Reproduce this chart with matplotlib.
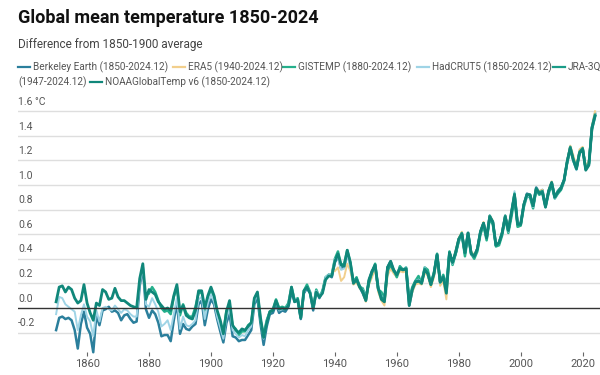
import matplotlib

matplotlib.use("Agg")
import matplotlib.pyplot as plt
from matplotlib.lines import Line2D

plt.rcParams["font.family"] = ["Roboto", "DejaVu Sans"]

# annual anomalies vs 1850-1900 (°C)
berkeley_start = 1850
berkeley = [
    -0.18, -0.08, -0.07, -0.09, -0.08, -0.10, -0.18, -0.33, -0.13, -0.03,
    -0.16, -0.21, -0.36, -0.06, -0.14, -0.02, -0.01, 0.01, -0.03, -0.02,
    -0.04, -0.10, -0.06, -0.05, -0.09, -0.12, -0.11, 0.18, 0.33, -0.01,
    -0.08, -0.02, -0.05, -0.12, -0.23, -0.22, -0.22, -0.27, -0.10, 0.04,
    -0.21, -0.13, -0.17, -0.18, -0.15, -0.13, 0.03, 0.06, -0.14, -0.01,
    0.07, 0.03, -0.09, -0.19, -0.28, -0.12, -0.05, -0.23, -0.24, -0.27,
    -0.26, -0.26, -0.22, -0.18, 0.03, 0.08, -0.13, -0.30, -0.15, -0.05,
    -0.04, 0.03, -0.04, -0.02, -0.03, 0.01, 0.13, 0.05, 0.06, -0.09,
    0.12, 0.16, 0.12, -0.02, 0.14, 0.08, 0.13, 0.24, 0.27, 0.25,
    0.37, 0.42, 0.32, 0.33, 0.45, 0.35, 0.20, 0.22, 0.17, 0.12,
    0.06, 0.22, 0.30, 0.33, 0.15, 0.08, 0.05, 0.33, 0.38, 0.30,
    0.27, 0.31, 0.30, 0.31, 0.02, 0.14, 0.21, 0.21, 0.20, 0.31,
    0.27, 0.19, 0.27, 0.43, 0.21, 0.25, 0.12, 0.45, 0.37, 0.44,
    0.56, 0.61, 0.44, 0.61, 0.45, 0.42, 0.48, 0.62, 0.69, 0.57,
    0.75, 0.70, 0.51, 0.53, 0.61, 0.75, 0.63, 0.77, 0.92, 0.68,
    0.69, 0.84, 0.93, 0.92, 0.83, 0.98, 0.94, 0.96, 0.83, 0.95,
    1.02, 0.90, 0.95, 0.98, 1.04, 1.19, 1.31, 1.21, 1.14, 1.27,
    1.30, 1.13, 1.17, 1.47, 1.58,
]

era5_start = 1940
era5 = [
    0.30, 0.33, 0.22, 0.25, 0.36, 0.30, 0.19, 0.21, 0.16, 0.14,
    0.05, 0.19, 0.25, 0.32, 0.13, 0.06, 0.02, 0.26, 0.32, 0.28,
    0.25, 0.30, 0.29, 0.30, 0.03, 0.13, 0.19, 0.20, 0.19, 0.29,
    0.26, 0.17, 0.25, 0.41, 0.18, 0.22, 0.07, 0.42, 0.36, 0.47,
    0.57, 0.62, 0.45, 0.61, 0.46, 0.43, 0.49, 0.61, 0.70, 0.58,
    0.75, 0.71, 0.51, 0.54, 0.62, 0.75, 0.64, 0.78, 0.92, 0.66,
    0.67, 0.84, 0.92, 0.92, 0.84, 0.97, 0.95, 0.96, 0.84, 0.96,
    1.03, 0.91, 0.95, 0.98, 1.04, 1.20, 1.32, 1.24, 1.15, 1.29,
    1.31, 1.15, 1.20, 1.48, 1.60,
]

gistemp_start = 1880
gistemp = [
    0.12, 0.17, 0.13, 0.06, 0.00, -0.03, -0.02, -0.05, 0.09, 0.17,
    -0.06, 0.03, -0.04, -0.07, -0.07, 0.01, 0.12, 0.13, -0.02, 0.08,
    0.15, 0.09, -0.04, -0.12, -0.20, -0.02, 0.03, -0.15, -0.17, -0.22,
    -0.19, -0.19, -0.14, -0.12, 0.07, 0.12, -0.10, -0.22, -0.10, -0.03,
    -0.01, 0.07, 0.00, 0.01, 0.00, 0.04, 0.17, 0.06, 0.08, -0.08,
    0.14, 0.19, 0.13, 0.00, 0.15, 0.09, 0.14, 0.25, 0.27, 0.27,
    0.40, 0.46, 0.35, 0.36, 0.47, 0.37, 0.21, 0.25, 0.17, 0.16,
    0.09, 0.20, 0.29, 0.36, 0.15, 0.13, 0.08, 0.33, 0.34, 0.31,
    0.25, 0.34, 0.31, 0.33, 0.07, 0.17, 0.22, 0.26, 0.20, 0.33,
    0.31, 0.20, 0.29, 0.44, 0.21, 0.27, 0.18, 0.46, 0.35, 0.44,
    0.54, 0.60, 0.42, 0.59, 0.44, 0.40, 0.46, 0.60, 0.67, 0.55,
    0.73, 0.68, 0.50, 0.51, 0.59, 0.73, 0.61, 0.74, 0.89, 0.66,
    0.67, 0.82, 0.91, 0.90, 0.81, 0.96, 0.92, 0.94, 0.82, 0.93,
    1.00, 0.89, 0.93, 0.96, 1.03, 1.18, 1.29, 1.20, 1.13, 1.26,
    1.29, 1.13, 1.17, 1.45, 1.56,
]

hadcrut_start = 1850
hadcrut = [
    -0.05, 0.09, 0.08, 0.03, 0.01, -0.01, -0.03, -0.18, -0.06, 0.03,
    -0.07, -0.11, -0.23, -0.02, -0.11, 0.00, 0.01, -0.01, -0.02, 0.02,
    -0.01, -0.04, -0.01, -0.02, -0.05, -0.07, -0.07, 0.20, 0.33, 0.03,
    0.01, 0.08, 0.03, -0.03, -0.15, -0.13, -0.10, -0.18, -0.05, 0.08,
    -0.17, -0.07, -0.14, -0.15, -0.13, -0.10, 0.07, 0.09, -0.09, 0.04,
    0.11, 0.05, -0.07, -0.16, -0.25, -0.08, 0.00, -0.18, -0.21, -0.24,
    -0.22, -0.23, -0.18, -0.15, 0.05, 0.11, -0.09, -0.25, -0.11, -0.03,
    -0.02, 0.05, -0.02, -0.01, -0.01, 0.03, 0.16, 0.07, 0.07, -0.07,
    0.13, 0.17, 0.13, 0.00, 0.14, 0.10, 0.13, 0.25, 0.27, 0.27,
    0.40, 0.41, 0.31, 0.32, 0.44, 0.33, 0.21, 0.23, 0.18, 0.15,
    0.09, 0.23, 0.29, 0.35, 0.15, 0.10, 0.07, 0.30, 0.36, 0.30,
    0.27, 0.33, 0.31, 0.33, 0.05, 0.15, 0.22, 0.23, 0.21, 0.33,
    0.27, 0.19, 0.29, 0.43, 0.20, 0.26, 0.15, 0.44, 0.36, 0.45,
    0.55, 0.59, 0.45, 0.60, 0.43, 0.42, 0.48, 0.62, 0.67, 0.57,
    0.74, 0.70, 0.51, 0.54, 0.61, 0.74, 0.62, 0.78, 0.95, 0.68,
    0.68, 0.83, 0.90, 0.92, 0.82, 0.96, 0.93, 0.94, 0.82, 0.95,
    1.02, 0.89, 0.94, 0.97, 1.03, 1.18, 1.29, 1.19, 1.12, 1.26,
    1.29, 1.13, 1.17, 1.46, 1.55,
]

jra3q_start = 1947
jra3q = [
    0.24, 0.18, 0.14,
    0.07, 0.22, 0.29, 0.35, 0.16, 0.09, 0.06, 0.30, 0.36, 0.30,
    0.27, 0.33, 0.31, 0.32, 0.05, 0.15, 0.22, 0.22, 0.21, 0.32,
    0.28, 0.19, 0.28, 0.44, 0.21, 0.26, 0.14, 0.45, 0.37, 0.46,
    0.56, 0.61, 0.45, 0.61, 0.45, 0.42, 0.48, 0.62, 0.69, 0.57,
    0.75, 0.70, 0.51, 0.53, 0.61, 0.75, 0.63, 0.77, 0.93, 0.68,
    0.68, 0.84, 0.92, 0.92, 0.83, 0.97, 0.94, 0.95, 0.83, 0.95,
    1.02, 0.90, 0.95, 0.98, 1.04, 1.19, 1.31, 1.21, 1.14, 1.27,
    1.30, 1.13, 1.17, 1.47, 1.57,
]

noaa_start = 1850
noaa = [
    0.05, 0.17, 0.18, 0.13, 0.17, 0.15, 0.08, 0.04, 0.06, 0.19,
    0.04, -0.04, -0.10, 0.04, 0.02, 0.15, 0.13, 0.07, 0.08, 0.16,
    0.09, 0.06, 0.06, 0.04, 0.02, 0.01, 0.00, 0.24, 0.36, 0.07,
    0.15, 0.13, 0.11, 0.05, 0.02, -0.01, 0.00, -0.02, 0.10, 0.19,
    -0.03, 0.02, -0.06, -0.08, -0.09, -0.02, 0.14, 0.14, 0.00, 0.10,
    0.17, 0.10, -0.02, -0.10, -0.21, -0.03, 0.06, -0.14, -0.18, -0.20,
    -0.17, -0.18, -0.15, -0.12, 0.08, 0.13, -0.08, -0.24, -0.12, -0.03,
    -0.02, 0.06, -0.01, 0.00, -0.01, 0.02, 0.17, 0.05, 0.07, -0.08,
    0.14, 0.17, 0.12, 0.00, 0.13, 0.09, 0.12, 0.23, 0.26, 0.26,
    0.38, 0.44, 0.35, 0.34, 0.47, 0.37, 0.20, 0.23, 0.17, 0.13,
    0.06, 0.23, 0.30, 0.35, 0.16, 0.07, 0.05, 0.33, 0.38, 0.31,
    0.27, 0.32, 0.31, 0.32, 0.02, 0.15, 0.21, 0.22, 0.20, 0.31,
    0.28, 0.19, 0.28, 0.43, 0.21, 0.25, 0.12, 0.45, 0.37, 0.45,
    0.56, 0.60, 0.45, 0.61, 0.44, 0.42, 0.48, 0.62, 0.69, 0.57,
    0.74, 0.70, 0.51, 0.53, 0.61, 0.74, 0.63, 0.78, 0.92, 0.68,
    0.68, 0.84, 0.92, 0.92, 0.83, 0.97, 0.93, 0.94, 0.82, 0.95,
    1.02, 0.90, 0.94, 0.97, 1.04, 1.19, 1.30, 1.20, 1.13, 1.26,
    1.29, 1.12, 1.16, 1.46, 1.56,
]

series = [
    ("Berkeley Earth (1850-2024.12)", berkeley_start, berkeley, "#2b7f9c", 1.8),
    ("ERA5 (1940-2024.12)", era5_start, era5, "#f2cf8c", 1.4),
    ("GISTEMP (1880-2024.12)", gistemp_start, gistemp, "#25b08c", 1.8),
    ("HadCRUT5 (1850-2024.12)", hadcrut_start, hadcrut, "#9fd4e6", 1.4),
    ("JRA-3Q (1947-2024.12)", jra3q_start, jra3q, "#1a9c88", 1.8),
    ("NOAAGlobalTemp v6 (1850-2024.12)", noaa_start, noaa, "#10877a", 2.0),
]

yticks = [-0.2, 0.0, 0.2, 0.4, 0.6, 0.8, 1.0, 1.2, 1.4, 1.6]
xticks = [1860, 1880, 1900, 1920, 1940, 1960, 1980, 2000, 2020]

fig = plt.figure(figsize=(6, 3.75), dpi=100)
ax = fig.add_axes([0.03, 0.0613, 0.97, 0.6487])

for name, start, vals, color, lw in series:
    years = list(range(start, start + len(vals)))
    ax.plot(years, vals, color=color, lw=lw, solid_joinstyle="round", clip_on=False)

ax.set_xlim(1837.7, 2025.6)
ax.set_ylim(-0.358, 1.62)

for v in yticks:
    if v == 0:
        ax.axhline(v, color="#333333", lw=1.0, zorder=3)
    else:
        ax.axhline(v, color="#dedede", lw=1.0, zorder=0)
    label = "1.6 °C" if v == 1.6 else f"{v:.1f}"
    ax.text(0.0, v + 0.035, label, transform=ax.get_yaxis_transform(),
            ha="left", va="bottom", fontsize=7.5, color="#555555")

ax.set_yticks([])
ax.set_xticks(xticks)
ax.tick_params(axis="x", length=3, width=0.8, color="#666666",
               labelsize=8, labelcolor="#555555", pad=2)
for side in ["top", "right", "left", "bottom"]:
    ax.spines[side].set_visible(False)

fig.text(0.03, 0.952, "Global mean temperature 1850-2024", fontsize=13,
         fontweight="bold", color="#111111", va="center")
fig.text(0.03, 0.882, "Difference from 1850-1900 average", fontsize=8.5,
         color="#444444", va="center")

# legend laid out by hand like the original
legend_pos = [
    (18, 67), (173, 67), (283, 67), (417, 67), (553, 67), (90, 82),
]
W, H = 600, 375
for (name, start, vals, color, lw), (px, py) in zip(series, legend_pos):
    yf = 1 - py / H
    fig.add_artist(Line2D([px / W, (px + 12) / W], [yf, yf], color=color, lw=1.6))
    txt = name
    if name.startswith("JRA-3Q"):
        txt = "JRA-3Q"
    fig.text((px + 15) / W, yf, txt, fontsize=7.2, color="#555555", va="center")
fig.text(18 / W, 1 - 82 / H, "(1947-2024.12)", fontsize=7.2, color="#555555", va="center")

fig.savefig("out.png", dpi=100)
